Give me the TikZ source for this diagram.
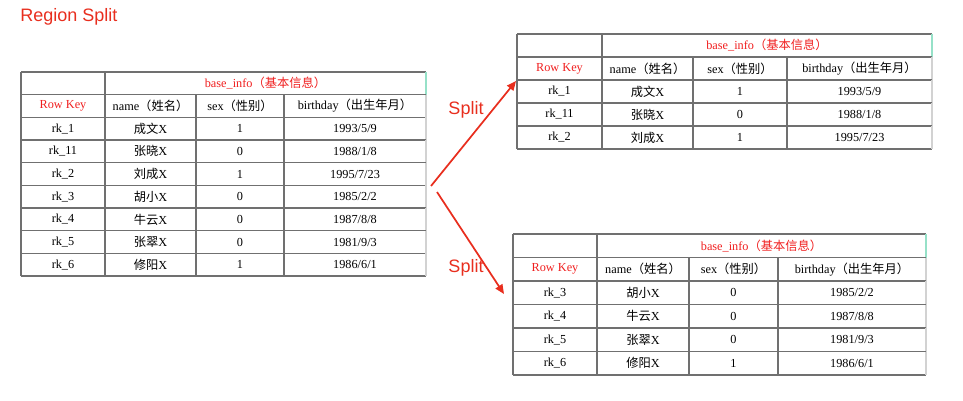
\documentclass[tikz,border=0pt]{standalone}
\usepackage{fontspec}
\setmainfont{Liberation Serif}
\newfontfamily\cjk{Noto Sans CJK SC}
\newfontfamily\labelfont{Liberation Sans}
\usepackage{xcolor}
\definecolor{splitred}{RGB}{232,46,30}
\definecolor{headred}{RGB}{240,30,30}
\definecolor{gridgray}{RGB}{112,112,112}
\definecolor{edgegreen}{RGB}{150,225,200}
\usetikzlibrary{positioning,arrows.meta,calc}
\newcommand\zh[1]{{\cjk #1}}

% #1 prefix, #2-#6 column lines, #7 top, #8 row height, #9 rows
\newcommand\regiontable[9]{%
  \draw[gridline] (#2,#7) -- (#6,#7);
  \draw[gridline] (#2,#7) -- (#2,#7+#8) (#3,#7) -- (#3,#7+#8);
  \draw[edgeline, edgegreen] (#6,#7) -- (#6,#7+#8);
  \node[cell, headred] (#1-base) at ({(#3+#6)/2},{#7+#8/2}) {base\_info\zh{（基本信息）}};
  \foreach \k/\n/\s/\d [count=\r] in {{\color{headred}Row Key}/name\zh{（姓名）}/sex\zh{（性别）}/birthday\zh{（出生年月）},#9}{
    \draw[gridline] (#2,{#7+\r*#8}) -- (#6,{#7+\r*#8})
      (#2,{#7+(\r+1)*#8}) -- (#6,{#7+(\r+1)*#8});
    \foreach \c in {#2,#3,#4,#5}
      \draw[gridline] (\c,{#7+\r*#8}) -- (\c,{#7+(\r+1)*#8});
    \draw[edgeline] (#6,{#7+\r*#8}) -- (#6,{#7+(\r+1)*#8});
    \node[cell] (#1-\r-key) at ({(#2+#3)/2},{#7+(\r+0.5)*#8}) {\k};
    \node[cell] (#1-\r-name) at ({(#3+#4)/2},{#7+(\r+0.5)*#8}) {\n};
    \node[cell] (#1-\r-sex) at ({(#4+#5)/2},{#7+(\r+0.5)*#8}) {\s};
    \node[cell] (#1-\r-bday) at ({(#5+#6)/2},{#7+(\r+0.5)*#8}) {\d};
  }%
}

\begin{document}
\begin{tikzpicture}[x=0.75pt, y=-0.75pt,
  gridline/.style={draw=gridgray, line width=0.9pt},
  edgeline/.style={draw=gray!35, line width=0.9pt},
  cell/.style={font=\fontsize{9.2}{10}\selectfont, text=black, inner sep=0pt},
  splitlabel/.style={font=\labelfont\fontsize{13.5}{15}\selectfont, text=splitred, inner sep=0pt},
  splitarrow/.style={draw=splitred, line width=1.3pt, -{Triangle[length=7pt,width=6pt]}}]
\useasboundingbox (0,0) rectangle (963,400);

\node[splitlabel, anchor=base west] (title) at (20,21) {Region Split};

% the region before the split
\regiontable{whole}{21}{105}{196}{284}{426}{72}{22.67}{%
  rk\_1/\zh{成文}X/1/{1993/5/9},
  rk\_11/\zh{张晓}X/0/{1988/1/8},
  rk\_2/\zh{刘成}X/1/{1995/7/23},
  rk\_3/\zh{胡小}X/0/{1985/2/2},
  rk\_4/\zh{牛云}X/0/{1987/8/8},
  rk\_5/\zh{张翠}X/0/{1981/9/3},
  rk\_6/\zh{修阳}X/1/{1986/6/1}}

% the two daughter regions
\regiontable{upper}{517}{602}{693}{787}{932}{34}{23}{%
  rk\_1/\zh{成文}X/1/{1993/5/9},
  rk\_11/\zh{张晓}X/0/{1988/1/8},
  rk\_2/\zh{刘成}X/1/{1995/7/23}}
\regiontable{lower}{513}{597}{689}{778}{926}{234}{23.5}{%
  rk\_3/\zh{胡小}X/0/{1985/2/2},
  rk\_4/\zh{牛云}X/0/{1987/8/8},
  rk\_5/\zh{张翠}X/0/{1981/9/3},
  rk\_6/\zh{修阳}X/1/{1986/6/1}}

\coordinate (from-up) at (431,186);
\coordinate (from-down) at (437,192);
\coordinate (to-up) at (516,81);
\coordinate (to-down) at (504,294);
\draw[splitarrow] (from-up) -- (to-up);
\draw[splitarrow] (from-down) -- (to-down);
\node[splitlabel, anchor=base] (split-up) at (466,114) {Split};
\node[splitlabel, anchor=base] (split-down) at (466,272) {Split};
\end{tikzpicture}
\end{document}
